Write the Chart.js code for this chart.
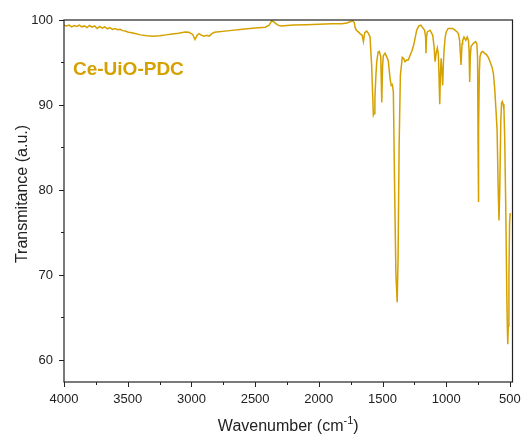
<!DOCTYPE html>
<html>
<head>
<meta charset="utf-8">
<script src="https://cdn.jsdelivr.net/npm/chart.js@4.4.1/dist/chart.umd.min.js"></script>
<style>
    html, body { margin: 0; padding: 0; background: #fff; }
    canvas { display: block; }
</style>
</head>
<body>
<canvas id="ftirChart" width="522" height="437"></canvas>
<script>
// FTIR spectrum (cm-1 / %T)
const wavenumber = [
    4000, 3980, 3960, 3940, 3920, 3900, 3880, 3860, 3840, 3820, 3800, 3780, 3760, 3740, 3720, 3700,
    3680, 3660, 3640, 3620, 3600, 3580, 3560, 3540, 3520, 3500, 3450, 3400, 3350, 3300, 3250, 3200,
    3150, 3100, 3050, 3020, 2990, 2972, 2955, 2940, 2920, 2900, 2880, 2860, 2840, 2820, 2700, 2600,
    2500, 2420, 2390, 2370, 2355, 2340, 2320, 2300, 2250, 2200, 2100, 2000, 1900, 1820, 1780, 1755,
    1735, 1722, 1715, 1705, 1690, 1670, 1660, 1650, 1640, 1624, 1610, 1598, 1585, 1572, 1566, 1560,
    1552, 1546, 1535, 1525, 1514, 1506, 1500, 1494, 1480, 1465, 1455, 1440, 1432, 1423, 1415, 1405,
    1395, 1385, 1378, 1370, 1360, 1345, 1335, 1324, 1310, 1298, 1285, 1271, 1258, 1245, 1232, 1215,
    1200, 1185, 1170, 1162, 1159, 1155, 1148, 1127, 1106, 1095, 1088, 1078, 1070, 1062, 1056, 1051,
    1046, 1040, 1035, 1028, 1022, 1017, 1008, 1000, 985, 970, 950, 931, 915, 905, 895, 884,
    876, 871, 861, 847, 835, 826, 821, 816, 811, 805, 787, 770, 760, 754, 750, 748,
    745, 740, 735, 725, 714, 700, 683, 670, 656, 640, 630, 620, 610, 601, 592, 586,
    580, 572, 566, 560, 553, 547, 541, 533, 525, 520, 517, 513, 508, 503, 498
];
const transmittance = [
    99.4, 99.3, 99.4, 99.2, 99.35, 99.25, 99.4, 99.2, 99.3, 99.1, 99.35, 99.15, 99.3, 99.0, 99.25, 99.05,
    99.2, 98.95, 99.1, 98.9, 99.0, 98.85, 98.9, 98.75, 98.7, 98.6, 98.45, 98.25, 98.15, 98.1, 98.15, 98.25,
    98.35, 98.45, 98.6, 98.55, 98.3, 97.7, 98.2, 98.4, 98.2, 98.1, 98.2, 98.1, 98.4, 98.55, 98.75, 98.9,
    99.05, 99.15, 99.4, 99.9, 99.8, 99.6, 99.4, 99.3, 99.35, 99.4, 99.45, 99.5, 99.55, 99.55, 99.65, 99.8,
    99.9, 99.7, 99.1, 98.8, 98.6, 98.3, 98.2, 97.45, 98.5, 98.7, 98.4, 98.0, 94.5, 88.8, 89.0, 90.8,
    93.5, 95.0, 96.2, 96.3, 95.7, 90.3, 94.5, 95.8, 96.1, 95.6, 95.2, 93.0, 92.3, 92.4, 91.5, 80.0,
    70.0, 66.8, 72.0, 85.0, 93.5, 95.6, 95.5, 95.1, 95.3, 95.3, 95.8, 96.3, 96.9, 97.8, 98.8, 99.3,
    99.4, 99.1, 98.8, 98.0, 96.1, 98.0, 98.6, 98.8, 98.2, 96.8, 95.1, 96.2, 96.7, 96.0, 93.0, 90.1,
    93.5, 95.5, 95.5, 92.3, 95.0, 96.5, 98.0, 98.6, 99.0, 99.0, 99.0, 98.8, 98.6, 98.4, 97.6, 94.7,
    97.2, 97.6, 98.0, 97.6, 98.0, 97.6, 96.5, 92.7, 95.8, 96.9, 97.25, 97.45, 97.2, 95.5, 85.0, 78.6,
    87.0, 94.0, 95.7, 96.2, 96.3, 96.1, 95.9, 95.6, 95.1, 94.4, 93.7, 92.0, 89.5, 87.1, 80.0, 76.4,
    80.0, 88.0, 90.2, 90.4, 90.1, 89.4, 86.0, 78.0, 68.0, 63.5, 61.85, 64.0, 70.0, 76.0, 77.3
];

const xMajorTicks = [4000, 3500, 3000, 2500, 2000, 1500, 1000, 500];
const yMajorTicks = [60, 70, 80, 90, 100];
const sampleLabel = 'Ce-UiO-PDC';

const LINE_COLOR = '#D5A100';
const AXIS_COLOR = '#222222';
const FONT = 'Arial, "Liberation Sans", sans-serif';

// frame, tick marks, axis titles and sample label
const decorPlugin = {
    id: 'decor',
    afterDraw(chart) {
        const { ctx, chartArea: a, scales } = chart;
        const xs = scales.x, ys = scales.y;
        ctx.save();
        ctx.strokeStyle = AXIS_COLOR;
        ctx.lineWidth = 1.2;
        ctx.strokeRect(a.left, a.top, a.right - a.left, a.bottom - a.top);

        ctx.lineWidth = 1;
        ctx.beginPath();
        for (let v = 500; v <= 4000; v += 250) {
            const px = Math.round(xs.getPixelForValue(v)) + 0.5;
            const len = v % 500 === 0 ? 5 : 3;
            ctx.moveTo(px, a.bottom);
            ctx.lineTo(px, a.bottom + len);
        }
        for (let v = 60; v <= 100; v += 5) {
            const py = Math.round(ys.getPixelForValue(v)) + 0.5;
            const len = v % 10 === 0 ? 5 : 3;
            ctx.moveTo(a.left, py);
            ctx.lineTo(a.left - len, py);
        }
        ctx.stroke();

        // x title with superscript
        ctx.fillStyle = AXIS_COLOR;
        ctx.textBaseline = 'alphabetic';
        const main = 'Wavenumber (cm';
        const sup = '-1';
        const tail = ')';
        ctx.font = '16px ' + FONT;
        const wMain = ctx.measureText(main).width;
        const wTail = ctx.measureText(tail).width;
        ctx.font = '11px ' + FONT;
        const wSup = ctx.measureText(sup).width;
        const total = wMain + wSup + wTail;
        let x0 = (a.left + a.right) / 2 - total / 2;
        const base = 431;
        ctx.font = '16px ' + FONT;
        ctx.textAlign = 'left';
        ctx.fillText(main, x0, base);
        ctx.font = '11px ' + FONT;
        ctx.fillText(sup, x0 + wMain, base - 7);
        ctx.font = '16px ' + FONT;
        ctx.fillText(tail, x0 + wMain + wSup, base);

        // y title
        ctx.save();
        ctx.translate(23, 194);
        ctx.rotate(-Math.PI / 2);
        ctx.textAlign = 'center';
        ctx.textBaseline = 'middle';
        ctx.font = '16px ' + FONT;
        ctx.fillText('Transmitance (a.u.)', 0, 0);
        ctx.restore();

        // sample label
        ctx.fillStyle = LINE_COLOR;
        ctx.font = 'bold 19px ' + FONT;
        ctx.textAlign = 'left';
        ctx.textBaseline = 'middle';
        ctx.fillText(sampleLabel, 73, 70);
        ctx.restore();
    }
};

new Chart(document.getElementById('ftirChart'), {
    type: 'line',
    data: {
        datasets: [{
            data: wavenumber.map((w, i) => ({ x: w, y: transmittance[i] })),
            borderColor: LINE_COLOR,
            borderWidth: 1.5,
            pointRadius: 0,
            tension: 0,
            fill: false
        }]
    },
    options: {
        responsive: false,
        animation: false,
        layout: { padding: { left: 0, right: 9.5, top: 20, bottom: 0 } },
        plugins: { legend: { display: false }, tooltip: { enabled: false } },
        scales: {
            x: {
                type: 'linear',
                reverse: true,
                min: 480,
                max: 4000,
                grid: { display: false, drawTicks: false },
                border: { display: false },
                afterBuildTicks: s => { s.ticks = xMajorTicks.map(v => ({ value: v })); },
                afterFit: s => { s.height = 55; s.paddingLeft = 0; s.paddingRight = 0; },
                ticks: {
                    padding: 10,
                    maxRotation: 0,
                    autoSkip: false,
                    color: AXIS_COLOR,
                    font: { family: FONT, size: 13 },
                    callback: v => String(v)
                }
            },
            y: {
                min: 57.41,
                max: 100,
                grid: { display: false, drawTicks: false },
                border: { display: false },
                afterBuildTicks: s => { s.ticks = yMajorTicks.map(v => ({ value: v })); },
                afterFit: s => { s.width = 64; s.paddingTop = 0; s.paddingBottom = 0; },
                ticks: {
                    padding: 11,
                    color: AXIS_COLOR,
                    font: { family: FONT, size: 13 },
                    callback: v => String(v)
                }
            }
        }
    },
    plugins: [decorPlugin]
});
</script>
</body>
</html>
